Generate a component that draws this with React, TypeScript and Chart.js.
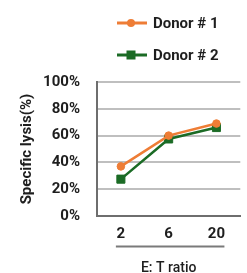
import React, { useEffect, useRef } from "react";
import { Chart, registerables } from "chart.js";

Chart.register(...registerables);

const categories = ["2", "6", "20"];
const seriesNames = ["Donor # 1", "Donor # 2"];
const donor1 = [37, 60, 69];
const donor2 = [27.5, 57.5, 66];
const yTickValues = [0, 20, 40, 60, 80, 100];
const xTitle = "E: T ratio";
const yTitle = "Specific lysis(%)";

const ORANGE = "#EE7D36";
const GREEN = "#1B6B25";
const FONT = "Roboto, 'Liberation Sans', sans-serif";
const TEXT = "#1e1e1e";

const underlinePlugin = {
  id: "tickUnderline",
  afterDraw(chart: any) {
    const xs = chart.scales.x;
    const ctx = chart.ctx;
    const n = xs.ticks.length;
    const x0 = xs.getPixelForTick(0) - 5;
    const x1 = xs.getPixelForTick(n - 1) + 8;
    const y = xs.top + 30.5;
    ctx.save();
    ctx.strokeStyle = "#7a7a7a";
    ctx.lineWidth = 2;
    ctx.beginPath();
    ctx.moveTo(x0, y);
    ctx.lineTo(x1, y);
    ctx.stroke();
    ctx.restore();
  },
};

function LegendRow({ label, color, shape }: { label: string; color: string; shape: string }) {
  return (
    <div style={{ display: "flex", alignItems: "center", height: 18, marginBottom: 14 }}>
      <svg width={30} height={12} style={{ display: "block" }}>
        <line x1={0} y1={6} x2={30} y2={6} stroke={color} strokeWidth={3} />
        {shape === "circle" ? (
          <circle cx={14} cy={6} r={4} fill={color} />
        ) : (
          <rect x={9.5} y={1.5} width={9} height={9} fill={color} />
        )}
      </svg>
      <span
        style={{
          marginLeft: 6,
          fontFamily: FONT,
          fontWeight: "bold",
          fontSize: 15,
          lineHeight: "18px",
          color: TEXT,
          whiteSpace: "nowrap",
        }}
      >
        {label}
      </span>
    </div>
  );
}

export default function App() {
  const ref = useRef<HTMLCanvasElement | null>(null);

  useEffect(() => {
    if (!ref.current) return;
    const chart = new Chart(ref.current, {
      type: "line",
      data: {
        labels: categories,
        datasets: [
          {
            label: seriesNames[0],
            data: donor1,
            borderColor: ORANGE,
            backgroundColor: ORANGE,
            borderWidth: 2.5,
            pointStyle: "circle",
            pointRadius: 3.8,
            pointBorderWidth: 1,
            tension: 0,
          },
          {
            label: seriesNames[1],
            data: donor2,
            borderColor: GREEN,
            backgroundColor: GREEN,
            borderWidth: 2.5,
            pointStyle: "rect",
            pointRadius: 5.7,
            pointBorderWidth: 1,
            tension: 0,
          },
        ],
      },
      options: {
        animation: false,
        responsive: true,
        maintainAspectRatio: false,
        layout: { padding: { top: 82, right: 0, bottom: 0, left: 0 } },
        plugins: {
          legend: { display: false },
          tooltip: { enabled: false },
        },
        scales: {
          x: {
            type: "category",
            offset: true,
            grid: { display: false, drawTicks: false },
            border: { display: true, color: "#6e6e6e", width: 2 },
            ticks: {
              color: TEXT,
              padding: 9,
              font: { family: FONT, size: 15, weight: "bold", lineHeight: 1.2 },
            },
            title: {
              display: true,
              text: xTitle,
              color: TEXT,
              padding: { top: 11, bottom: 0 },
              font: { family: FONT, size: 14, weight: "500", lineHeight: "10px" },
            },
          },
          y: {
            min: 0,
            max: 100,
            afterBuildTicks(scale: any) {
              scale.ticks = yTickValues.map((v) => ({ value: v }));
            },
            afterFit(scale: any) {
              scale.width = 97;
            },
            grid: {
              drawTicks: false,
              lineWidth: 2,
              color: (ctx: any) => (ctx.tick && ctx.tick.value === 0 ? "rgba(0,0,0,0)" : "#bfbfbf"),
            },
            border: { display: true, color: "#6e6e6e", width: 2 },
            ticks: {
              color: TEXT,
              padding: 17,
              callback: (v: any) => v + "%",
              font: { family: FONT, size: 15, weight: "bold" },
            },
            title: {
              display: true,
              text: yTitle,
              color: TEXT,
              padding: { top: 18, bottom: 0 },
              font: { family: FONT, size: 15, weight: "bold", lineHeight: 1.2 },
            },
          },
        },
      },
      plugins: [underlinePlugin],
    });
    return () => chart.destroy();
  }, []);

  return (
    <div style={{ position: "absolute", left: 0, top: 0, width: 247, height: 273 }}>
      <canvas ref={ref} />
      <div style={{ position: "absolute", left: 117, top: 14 }}>
        <LegendRow label={seriesNames[0]} color={ORANGE} shape="circle" />
        <LegendRow label={seriesNames[1]} color={GREEN} shape="rect" />
      </div>
    </div>
  );
}
